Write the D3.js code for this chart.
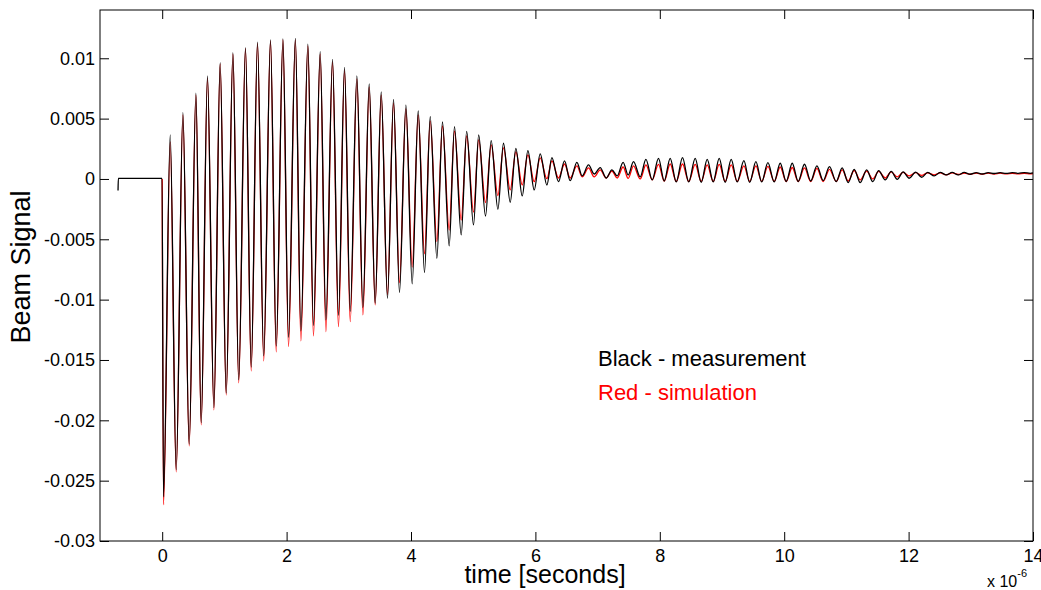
<!DOCTYPE html>
<html>
<head>
<meta charset="utf-8">
<script src="https://cdn.jsdelivr.net/npm/d3@7"></script>
<style>
  body { margin: 0; background: #fff; }
  text { font-family: "Liberation Sans", Arial, sans-serif; }
</style>
</head>
<body>
<div id="chart"></div>
<script>
// beam signal: measurement vs simulation (values in units of 1e-3, time in 1e-6 s)

var xTicks = [0, 2, 4, 6, 8, 10, 12, 14];
var yTicks = [-0.03, -0.025, -0.02, -0.015, -0.01, -0.005, 0, 0.005, 0.01];

// flat part before the kick (measurement only)
var preT = [-0.71, -0.705, -0.002];
var preMeas = [-0.95, 0.05, 0.05];

// times of the maxima / minima
var peakT = [0.129, 0.333, 0.542, 0.728, 0.932, 1.137, 1.339, 1.532, 1.741, 1.941,
  2.141, 2.342, 2.540, 2.738, 2.931, 3.130, 3.328, 3.521, 3.719, 3.918,
  4.116, 4.309, 4.506, 4.699, 4.895, 5.088, 5.289, 5.487, 5.686, 5.879,
  6.077, 6.265, 6.468, 6.667, 6.854, 7.042, 7.230, 7.410, 7.577, 7.777,
  7.979, 8.167, 8.365, 8.569, 8.762, 8.955, 9.148, 9.352, 9.545, 9.738,
  9.936, 10.129, 10.326, 10.526, 10.728, 10.932, 11.125, 11.326, 11.519, 11.720,
  11.913, 12.114, 12.307, 12.508, 12.701, 12.894, 13.087, 13.280, 13.473, 13.666,
  13.859];
var troughT = [0.021, 0.225, 0.434, 0.627, 0.831, 1.029, 1.230, 1.431, 1.632, 1.833,
  2.031, 2.230, 2.432, 2.632, 2.834, 3.023, 3.227, 3.424, 3.622, 3.815,
  4.019, 4.217, 4.416, 4.614, 4.807, 5.005, 5.198, 5.397, 5.595, 5.788,
  5.981, 6.185, 6.371, 6.559, 6.752, 6.945, 7.138, 7.315, 7.492, 7.685,
  7.878, 8.071, 8.264, 8.465, 8.666, 8.859, 9.051, 9.244, 9.445, 9.638,
  9.839, 10.032, 10.225, 10.426, 10.627, 10.836, 11.029, 11.222, 11.423, 11.624,
  11.817, 12.010, 12.211, 12.412, 12.605, 12.797, 12.990, 13.183, 13.376, 13.569,
  13.762, 13.955];

var measPeak = [3.65, 5.49, 7.10, 8.53, 9.64, 10.46, 10.88, 11.33, 11.52, 11.60,
  11.64, 11.18, 10.55, 9.91, 9.25, 8.53, 7.87, 7.21, 6.60, 6.11,
  5.63, 5.16, 4.72, 4.33, 3.95, 3.65, 3.17, 2.96, 2.54, 2.34,
  2.07, 1.76, 1.49, 1.38, 1.16, 0.94, 0.75, 1.38, 1.43, 1.63,
  1.71, 1.71, 1.76, 1.71, 1.63, 1.71, 1.63, 1.52, 1.43, 1.35,
  1.30, 1.30, 1.22, 1.08, 1.02, 0.91, 0.80, 0.75, 0.69, 0.62,
  0.58, 0.56, 0.55, 0.55, 0.54, 0.54, 0.53, 0.53, 0.52, 0.52,
  0.52];
var measTrough = [-26.35, -24.1, -22.0, -20.2, -18.95, -17.75, -16.65, -15.58, -14.66, -13.84,
  -13.12, -12.59, -12.14, -11.68, -11.31, -10.98, -10.65, -10.31, -9.90, -9.40,
  -8.70, -7.75, -6.57, -5.55, -4.64, -3.81, -3.07, -2.51, -1.93, -1.41,
  -0.91, -0.50, -0.22, -0.14, 0.25, 0.41, 0.08, 0.25, 0.33, 0.17,
  -0.08, -0.17, -0.25, -0.25, -0.29, -0.25, -0.29, -0.25, -0.29, -0.25,
  -0.25, -0.21, -0.21, -0.17, -0.14, -0.22, -0.30, -0.30, -0.22, -0.08,
  -0.03, 0.06, 0.14, 0.25, 0.33, 0.33, 0.39, 0.41, 0.45, 0.46,
  0.47, 0.47];

var simPeak = [3.07, 5.30, 6.96, 8.37, 9.53, 10.36, 10.81, 11.23, 11.43, 11.52,
  11.52, 11.02, 10.36, 9.69, 9.03, 8.29, 7.62, 6.96, 6.30, 5.80,
  5.30, 4.81, 4.39, 3.98, 3.56, 3.23, 2.82, 2.57, 2.24, 1.99,
  1.74, 1.49, 1.24, 1.08, 0.91, 0.75, 0.66, 0.99, 1.08, 1.16,
  1.20, 1.24, 1.24, 1.20, 1.16, 1.20, 1.16, 1.08, 1.08, 1.04,
  0.99, 0.95, 0.91, 0.87, 0.80, 0.75, 0.70, 0.66, 0.62, 0.58,
  0.54, 0.52, 0.51, 0.50, 0.50, 0.49, 0.49, 0.48, 0.48, 0.47,
  0.47];
var simTrough = [-27.0, -24.27, -22.12, -20.38, -19.14, -17.90, -16.90, -15.91, -15.08, -14.33,
  -13.89, -13.42, -13.01, -12.65, -12.24, -11.82, -11.27, -10.44, -9.6, -8.6,
  -7.3, -6.2, -5.2, -4.23, -3.40, -2.75, -1.95, -1.38, -0.91, -0.50,
  -0.22, 0.02, 0.08, 0.08, 0.17, 0.17, 0.08, 0.08, 0.04, 0.0,
  -0.08, -0.17, -0.21, -0.21, -0.21, -0.21, -0.21, -0.21, -0.21, -0.21,
  -0.21, -0.21, -0.21, -0.21, -0.21, -0.21, -0.17, -0.08, 0.0, 0.08,
  0.17, 0.25, 0.29, 0.33, 0.35, 0.37, 0.39, 0.40, 0.41, 0.42,
  0.42, 0.43];

var endT = 14.0, measEnd = 0.50, simEnd = 0.45;

var W = 1041, H = 590,
    margin = {top: 10, right: 8, bottom: 49, left: 100},
    pw = W - margin.left - margin.right,
    ph = H - margin.top - margin.bottom;

function buildSeries(pre, preV, peaks, troughs, endV){
  var pts = [];
  for (var i = 0; i < pre.length; i++) pts.push({t: pre[i], v: preV[i]});
  if (!pre.length) pts.push({t: 0, v: 0});
  for (var j = 0; j < troughT.length; j++){
    pts.push({t: troughT[j], v: troughs[j]});
    if (j < peakT.length) pts.push({t: peakT[j], v: peaks[j]});
  }
  pts.push({t: endT, v: endV});
  return pts;
}

var measData = buildSeries(preT, preMeas, measPeak, measTrough, measEnd);
var simData = buildSeries([], [], simPeak, simTrough, simEnd);

var svg = d3.select("#chart").append("svg")
    .attr("width", W).attr("height", H);
var g = svg.append("g")
    .attr("transform", "translate(" + margin.left + "," + margin.top + ")");

var x = d3.scaleLinear().domain([-1, 14]).range([0, pw]);
var y = d3.scaleLinear().domain([-0.03, 0.014]).range([ph, 0]);

g.append("defs").append("clipPath").attr("id", "clip")
  .append("rect").attr("width", pw).attr("height", ph);

var line = d3.line()
    .x(d => x(d.t))
    .y(d => y(d.v * 1e-3))
    .curve(d3.curveMonotoneX);

var plot = g.append("g").attr("clip-path", "url(#clip)");
plot.append("path").datum(simData)
    .attr("d", line).attr("fill", "none")
    .attr("stroke", "#ff0000").attr("stroke-width", 1.3);
plot.append("path").datum(measData)
    .attr("d", line).attr("fill", "none")
    .attr("stroke", "#000").attr("stroke-width", 1.3);

var fmt = v => String(+v.toFixed(3));

// axes, MATLAB style: ticks pointing inwards on all four sides
g.append("g").attr("transform", "translate(0," + ph + ")")
  .call(d3.axisBottom(x).tickValues(xTicks).tickSize(-9).tickSizeOuter(0)
        .tickPadding(8).tickFormat(d => d));
g.append("g")
  .call(d3.axisLeft(y).tickValues(yTicks).tickSize(-9).tickSizeOuter(0)
        .tickPadding(5).tickFormat(fmt));
g.append("g")
  .call(d3.axisTop(x).tickValues(xTicks).tickSize(-9).tickSizeOuter(0).tickFormat(""));
g.append("g").attr("transform", "translate(" + pw + ",0)")
  .call(d3.axisRight(y).tickValues(yTicks).tickSize(-9).tickSizeOuter(0).tickFormat(""));

g.selectAll(".domain").remove();
g.selectAll(".tick line").attr("stroke", "#000").attr("stroke-width", 1);
g.selectAll(".tick text").attr("fill", "#000")
  .style("font-family", "'Liberation Sans', Arial, sans-serif")
  .style("font-size", "18px");

g.append("rect").attr("width", pw).attr("height", ph)
  .attr("fill", "none").attr("stroke", "#000").attr("stroke-width", 1);

// labels
svg.append("text")
  .attr("x", 545).attr("y", 583)
  .attr("text-anchor", "middle")
  .style("font-size", "25px")
  .text("time [seconds]");

svg.append("text")
  .attr("transform", "translate(30,267) rotate(-90)")
  .attr("text-anchor", "middle")
  .style("font-size", "27px")
  .text("Beam Signal");

var mult = svg.append("text").attr("x", 987).attr("y", 587).style("font-size", "16px");
mult.append("tspan").text("x 10");
mult.append("tspan").attr("dy", -10).style("font-size", "11px").text("-6");

svg.append("text").attr("x", 598).attr("y", 366)
  .style("font-size", "22px").attr("fill", "#000")
  .text("Black - measurement");
svg.append("text").attr("x", 598).attr("y", 400)
  .style("font-size", "22px").attr("fill", "#ff0000")
  .text("Red - simulation");
</script>
</body>
</html>
